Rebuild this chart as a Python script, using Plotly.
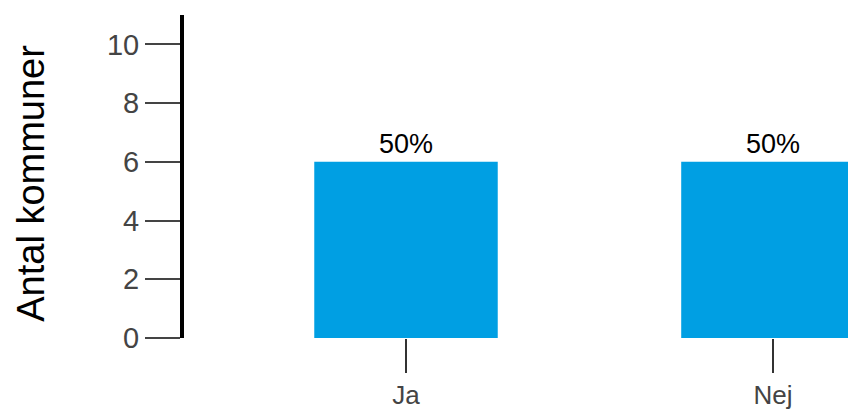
import plotly.graph_objects as go

categories = ["Ja", "Nej"]
values = [6, 6]
labels = ["50%", "50%"]
y_ticks = [0, 2, 4, 6, 8, 10]

fig = go.Figure()
fig.add_trace(go.Bar(
    x=categories, y=values, text=labels, textposition="outside",
    textfont=dict(size=27, color="black", family="Liberation Sans"),
    marker=dict(color="#009FE3", line=dict(width=0)),
    width=0.5, cliponaxis=False,
))
fig.update_layout(
    width=848, height=403,
    margin=dict(l=176, r=6, t=7, b=73),
    plot_bgcolor="white", paper_bgcolor="white",
    font=dict(family="Liberation Sans", size=28, color="#444"),
    showlegend=False,
    xaxis=dict(range=[-0.605, 1.21], showline=False, showgrid=False, zeroline=False,
               ticks="outside", ticklen=34, tickwidth=2, tickcolor="#333",
               tickfont=dict(size=26, color="#444"), automargin=False),
    yaxis=dict(range=[0, 11], tickvals=y_ticks, showline=True, linewidth=4, linecolor="black",
               showgrid=False, zeroline=False, ticks="outside", ticklen=35, tickwidth=2,
               tickcolor="#444", tickfont=dict(size=29, color="#444"), automargin=False),
    annotations=[dict(text="Antal kommuner", textangle=-90, xref="paper", yref="paper",
                      x=-0.23, y=0.48, xanchor="center", yanchor="middle", showarrow=False,
                      font=dict(size=38, color="black", family="Liberation Sans"))],
)
fig.write_html("out.html")
